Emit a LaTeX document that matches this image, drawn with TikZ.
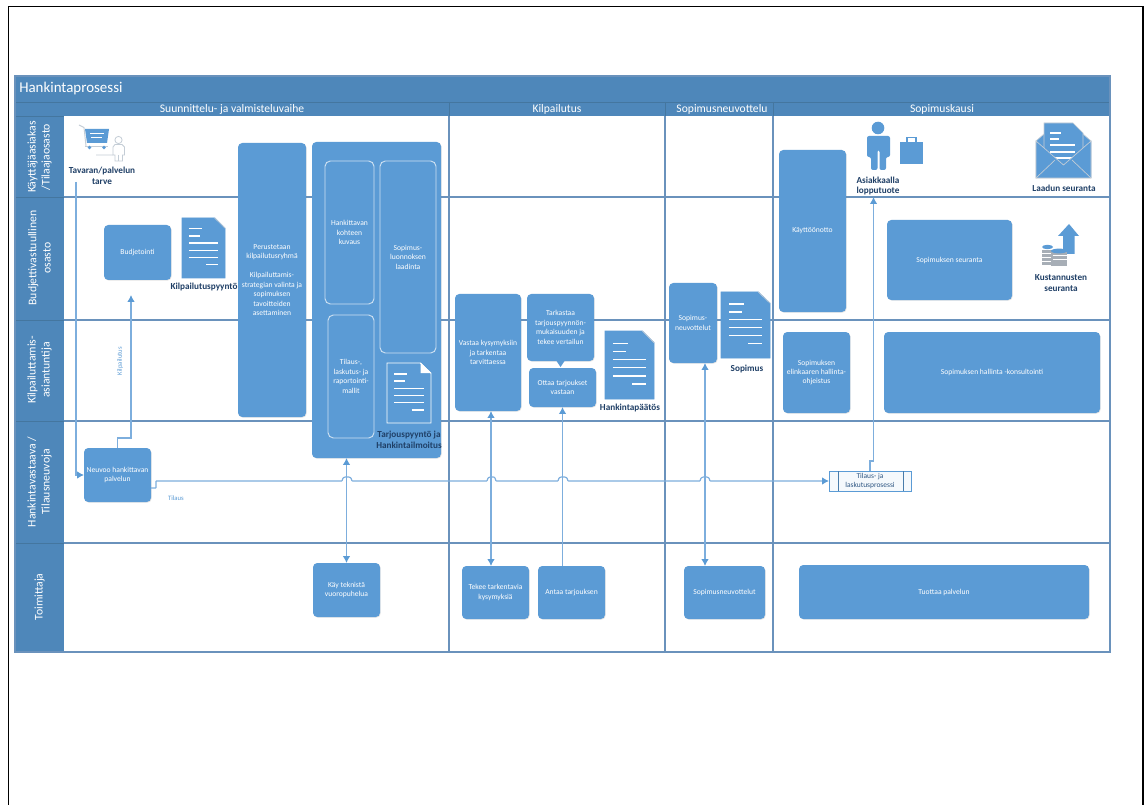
\documentclass[tikz,border=0pt]{standalone}
\usepackage{fontspec}
\setmainfont{Carlito}
\usetikzlibrary{arrows.meta,shadows,calc}
\definecolor{hdr}{HTML}{4E87BA}
\definecolor{hdrline}{HTML}{44769F}
\definecolor{boxblue}{HTML}{5B9BD5}
\definecolor{laneline}{HTML}{6A92BC}
\definecolor{conn}{HTML}{7DAEDD}
\definecolor{tipblue}{HTML}{5B9BD5}
\definecolor{labdark}{HTML}{1F3F66}
\definecolor{greyic}{HTML}{C4CDD6}
\tikzset{
  procbox/.style={fill=boxblue,rounded corners=3.2pt,inner sep=1pt,outer sep=0pt,align=center,text=white,
    font=\fontsize{5.7}{7.1}\selectfont,drop shadow={opacity=.22,shadow xshift=.5pt,shadow yshift=-.5pt}},
  innerbox/.style={draw=white!70!boxblue,line width=.7pt,rounded corners=4pt,inner sep=1pt,outer sep=0pt,align=center,text=white,
    font=\fontsize{5.7}{7.1}\selectfont},
  darklabel/.style={text=labdark,font=\bfseries\fontsize{6.9}{8.2}\selectfont,align=center,inner sep=0pt},
  lanelabel/.style={text=white,font=\fontsize{8.8}{10.6}\selectfont,align=center,rotate=90,inner sep=0pt},
  phaselabel/.style={text=white,font=\fontsize{8.7}{10}\selectfont,inner sep=0pt},
  flowlabel/.style={text=boxblue,font=\fontsize{5}{6}\selectfont,inner sep=0pt},
  laneln/.style={draw=laneline,line width=.8pt},
  flow/.style={draw=conn,line width=.85pt,-{Latex[length=5.2pt,width=5.6pt,color=tipblue]}},
  flowboth/.style={draw=conn,line width=.85pt,{Latex[length=5.2pt,width=5.6pt,color=tipblue]}-{Latex[length=5.2pt,width=5.6pt,color=tipblue]}},
}
% name, x1,y1,x2,y2, text  (pixel box)
\newcommand{\pbox}[7][procbox]{%
  \pgfmathsetmacro{\bw}{(#5-#3)*0.75}\pgfmathsetmacro{\bh}{(#6-#4)*0.75}%
  \node[#1,minimum width=\bw pt,minimum height=\bh pt] (#2) at ({(#3+#5)/2},{(#4+#6)/2}) {#7};}
% document icon: x1,y1,x2,y2, outline colour, fold colour
\newcommand{\docicon}[6]{%
  \pgfmathsetmacro{\dw}{(#3-#1)*0.75}\pgfmathsetmacro{\dh}{(#4-#2)*-0.75}%
  \begin{scope}[shift={(#1,#2)},x=\dw pt,y=\dh pt]
    \fill[boxblue,draw=#5,line width=.6pt] (0,0) -- (.76,0) -- (1,.17) -- (1,1) -- (0,1) -- cycle;
    \draw[#6,line width=.5pt] (.76,0) -- (1,.17);
    \draw[white,line width=1.05pt] (.16,.18) -- (.46,.18) (.16,.30) -- (.42,.30) (.16,.42) -- (.84,.42)
      (.16,.54) -- (.84,.54) (.16,.66) -- (.84,.66) (.56,.78) -- (.84,.78);
  \end{scope}}
\begin{document}
\begin{tikzpicture}[x=0.75pt,y=-0.75pt]
\useasboundingbox (0,0) rectangle (1144,805);
\fill[white] (0,0) rectangle (1144,805);
\draw[black,line width=1pt] (8.5,805) -- (8.5,6.5) -- (1143,6.5) -- (1143,805);

% pool
\fill[white,drop shadow={opacity=.12,shadow xshift=1pt,shadow yshift=-1pt}] (15,76) rectangle (1110,652);
\fill[hdr] (15,76) rectangle (1110,116);
\fill[hdr] (15,116) rectangle (64,652);
\draw[hdrline,line width=.6pt] (15,102) -- (1110,102);
\draw[hdrline,line width=.5pt] (449,102) -- (449,116) (665,102) -- (665,116) (773,102) -- (773,116);
\draw[hdrline,line width=.6pt] (15,116) -- (64,116) (15,197) -- (64,197) (15,320) -- (64,320) (15,421) -- (64,421) (15,543) -- (64,543);
\draw[laneln] (64,197) -- (1110,197) (64,320) -- (1110,320) (64,421) -- (1110,421) (64,543) -- (1110,543);
\draw[laneln] (449,116) -- (449,652) (665,116) -- (665,652) (773,116) -- (773,652);
\draw[laneln] (15,76) rectangle (1110,652);

\node[text=white,font=\fontsize{11.2}{13}\selectfont,anchor=west,inner sep=0pt] (title) at (19,89) {Hankintaprosessi};
\node[phaselabel] (ph1) at (232,109) {Suunnittelu- ja valmisteluvaihe};
\node[phaselabel] (ph2) at (557,109) {Kilpailutus};
\node[phaselabel] (ph3) at (722,109) {Sopimusneuvottelu};
\node[phaselabel] (ph4) at (942,109) {Sopimuskausi};

\node[lanelabel] (l1) at (39.5,157) {Käyttäjäasiakas\\/Tilaajaosasto};
\node[lanelabel] (l2) at (39.5,258) {Budjettivastuullinen\\osasto};
\node[lanelabel] (l3) at (39.5,370) {Kilpailuttamis-\\asiantuntija};
\node[lanelabel] (l4) at (39.5,482) {Hankintavastaava /\\Tilausneuvoja};
\node[lanelabel] (l5) at (39.5,597) {Toimittaja};

% boxes
\pbox{budj}{104}{225}{171}{280}{Budjetointi}
\pbox{perus}{238}{143}{306}{417}{Perustetaan\\kilpailutusryhmä\\[7pt]Kilpailuttamis-\\strategian valinta ja\\sopimuksen\\tavoitteiden\\asettaminen}
\pbox{big}{312}{142}{441}{458}{}
\pbox[innerbox]{hank}{325}{161}{374}{304}{Hankittavan\\kohteen\\kuvaus}
\pbox[innerbox]{sluo}{380}{161}{436}{353}{Sopimus-\\luonnoksen\\laadinta}
\pbox[innerbox]{tilm}{328}{315}{374}{438}{Tilaus-,\\laskutus- ja\\raportointi-\\mallit}
\pbox{vastaa}{455}{294}{521}{411}{Vastaa kysymyksiin\\ja tarkentaa\\tarvittaessa}
\pbox{tark}{527}{294}{594}{361}{Tarkastaa\\tarjouspyynnön-\\mukaisuuden ja\\tekee vertailun}
\pbox{ottaa}{529}{368}{596}{407}{Ottaa tarjoukset\\vastaan}
\pbox{sneu}{669}{283}{717}{363}{Sopimus-\\neuvottelut}
\pbox{kayt}{779}{150}{846}{312}{Käyttöönotto}
\pbox{sseu}{887}{220}{1012}{300}{Sopimuksen seuranta}
\pbox{elin}{783}{332}{850}{413}{Sopimuksen\\elinkaaren hallinta-\\ohjeistus}
\pbox{shal}{884}{332}{1100}{413}{Sopimuksen hallinta -konsultointi}
\pbox{neuvoo}{84}{448}{151}{502}{Neuvoo hankittavan\\palvelun}
\pbox{kay}{313}{563}{380}{617}{Käy teknistä\\vuoropuhelua}
\pbox{tekee}{462}{566}{529}{619}{Tekee tarkentavia\\kysymyksiä}
\pbox{antaa}{538}{566}{605}{619}{Antaa tarjouksen}
\pbox{sneu2}{684}{566}{765}{619}{Sopimusneuvottelut}
\pbox{tuot}{799}{565}{1089}{619}{Tuottaa palvelun}
\fill[boxblue] (tark.south)+(-4,0) -- +(4,0) -- +(0,6) -- cycle;

% subprocess
\node[draw=boxblue,fill=boxblue!6,line width=.7pt,minimum width=61.5pt,minimum height=15pt,inner sep=0pt,outer sep=0pt,
  align=center,text=labdark!75!boxblue,font=\fontsize{5.6}{6.9}\selectfont] (tilaus) at (870,481) {Tilaus- ja\\laskutusprosessi};
\draw[boxblue!80!black,line width=.6pt] (838,471) -- (838,491) (903,471) -- (903,491);

% documents
\docicon{182}{218}{225}{278}{boxblue}{greyic}
\docicon{605}{331}{654}{399}{boxblue}{greyic}
\docicon{721}{292}{770}{358}{boxblue}{greyic}
\docicon{387}{363}{431}{423}{white}{white}
\fill[white] (420.5,363) -- (431,373.2) -- (420.5,373.2) -- cycle;

% labels
\node[darklabel] (ltarve) at (102,176) {Tavaran/palvelun\\tarve};
\node[darklabel] (lkp) at (204,287) {Kilpailutuspyyntö};
\node[darklabel] (ltp) at (409,439.5) {Tarjouspyyntö ja\\Hankintailmoitus};
\node[darklabel] (lhp) at (630,408) {Hankintapäätös};
\node[darklabel] (lsop) at (747,369) {Sopimus};
\node[darklabel] (las) at (878,186) {Asiakkaalla\\lopputuote};
\node[darklabel] (llaa) at (1064,188) {Laadun seuranta};
\node[darklabel] (lkus) at (1061,283.5) {Kustannusten\\seuranta};

% cart + person
\draw[greyic,line width=.7pt] (79,125) -- (84,127.5) -- (86,146) (96,155) -- (113,155);
\fill[boxblue] (85,129) -- (109,129) -- (107,143) -- (87,143) -- cycle;
\draw[white,line width=.5pt] (90,133) -- (104,133) (91,137) -- (102,137);
\draw[greyic,line width=.6pt] (85,146) -- (108,146);
\fill[boxblue] (89.5,147.5) circle (1.9) (104,147.5) circle (1.9);
\draw[greyic,line width=.6pt,fill=white] (118.5,140) circle (3.6)
  (113,147) -- (115,144.5) -- (122,144.5) -- (124.5,147) -- (124.5,155) -- (122.5,155) -- (122.5,161) -- (115,161) -- (115,155) -- (113,155) -- cycle;
\draw[greyic,line width=.5pt] (118.7,155) -- (118.7,161);

% person + bag
\fill[boxblue] (878,128) circle (6.3);
\fill[boxblue,rounded corners=1.5pt] (867,136) -- (890,136) -- (890,157) -- (886,157) -- (886,170) -- (879.5,170) -- (879.5,150) -- (877.5,150) -- (877.5,170) -- (871,170) -- (871,157) -- (867,157) -- cycle;
\fill[boxblue] (900,142.5) rectangle (923,164);
\draw[boxblue,line width=.9pt] (907,142.5) -- (907,137.5) -- (916,137.5) -- (916,142.5);

% envelope
\fill[boxblue,draw=greyic,line width=.5pt] (1036,141) -- (1044,134) -- (1083,134) -- (1091,141) -- (1091,178) -- (1036,178) -- cycle;
\fill[boxblue,draw=greyic,line width=.5pt] (1044,165) -- (1044,123) -- (1073,123) -- (1083,133) -- (1083,165) -- cycle;
\draw[white,line width=1pt] (1050,133) -- (1061,133) (1050,139) -- (1059,139) (1050,145) -- (1075,145) (1050,152) -- (1075,152) (1050,158) -- (1075,158);
\fill[boxblue,draw=greyic,line width=.5pt] (1036,141) -- (1063.5,165) -- (1091,141) -- (1091,178) -- (1036,178) -- cycle;
\draw[greyic,line width=.5pt] (1036,178) -- (1055,160) (1091,178) -- (1072,160);

% arrow + coins
\fill[boxblue] (1069,224) -- (1079,236) -- (1074.5,236) -- (1074.5,254) -- (1063,254) -- (1063,236) -- (1058,236) -- cycle;
\foreach \cy in {250,254,258,262} {\fill[greyic!85!black] (1042,\cy) rectangle (1053,{\cy+3});}
\fill[boxblue] (1047.5,247) ellipse (5.5 and 2.2);
\foreach \cy in {252,256,260,263} {\fill[greyic!85!black] (1051,\cy) rectangle (1067,{\cy+3});}
\fill[boxblue] (1059,251) ellipse (8 and 2.4);

% connectors
\coordinate (cstart) at (76,182);
\coordinate (ctip) at (131,295);
\coordinate (atip) at (873.5,197);
\draw[flow] (cstart) |- (neuvoo.west);
\draw[flow] (neuvoo.north) |- (131,438) -- (ctip);
\node[flowlabel,rotate=90] (lkil) at (120,361) {Kilpailutus};
\node[flowlabel] (ltil) at (176,498) {Tilaus};
\draw[flow,rounded corners=.4pt] (neuvoo.east) ++(0,13) -- ++(5,0) -- ++(0,-7)
  -- (342,481) -- (343,478) -- (345,477) -- (349,477) -- (351,478) -- (352,481)
  -- (487,481) -- (488,478) -- (490,477) -- (494,477) -- (495,478) -- (496,481)
  -- (558,481) -- (559,478) -- (561,477) -- (565,477) -- (567,478) -- (568,481)
  -- (700,481) -- (701,478) -- (703,477) -- (707,477) -- (709,478) -- (710,481)
  -- (tilaus.west);
\draw[flowboth] (big.south -| kay.north) -- (kay.north);
\draw[flowboth] ($(vastaa.south)+(3,0)$) -- ($(vastaa.south |- tekee.north)+(3,0)$);
\draw[flow] (ottaa.south |- antaa.north) -- (ottaa.south);
\draw[flowboth] ($(sneu.south)+(12,0)$) -- ($(sneu.south |- sneu2.north)+(12,0)$);
\draw[flow] (tilaus.north) -- ++(0,-10) -- (873.5,461) -- (atip);
\end{tikzpicture}
\end{document}
